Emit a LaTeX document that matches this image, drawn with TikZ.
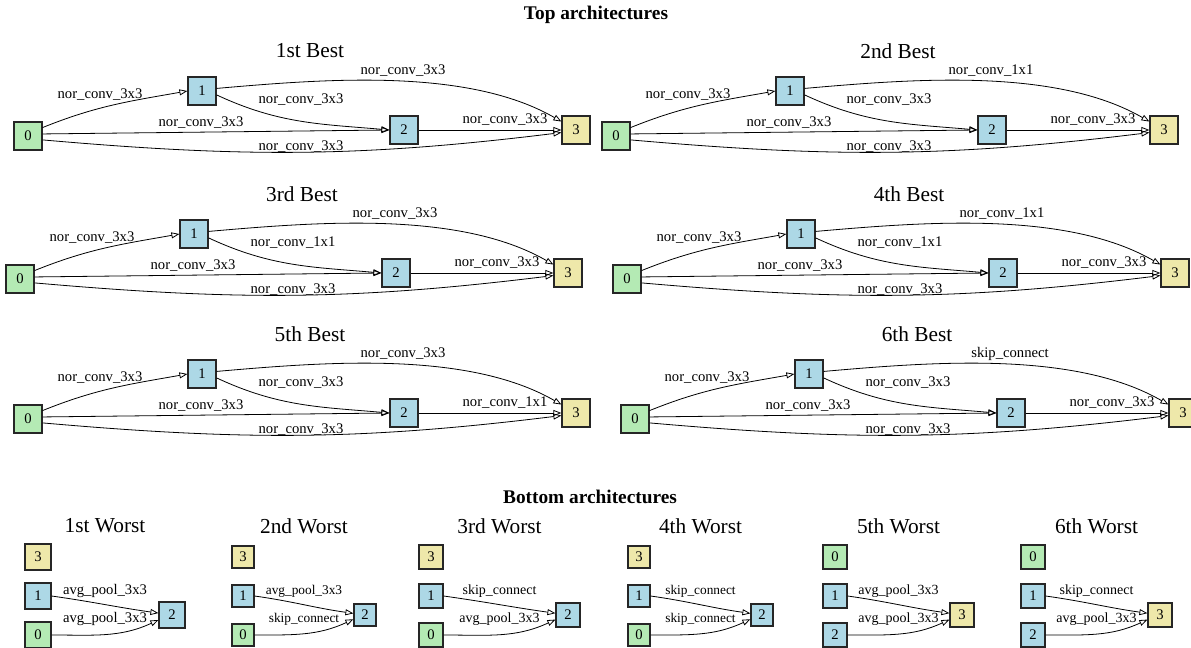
\documentclass[tikz,border=0pt]{standalone}
\usepackage{fontspec}
\setmainfont{Liberation Serif}
\usetikzlibrary{arrows.meta, positioning}

\definecolor{srcgreen}{HTML}{B4EAB4}
\definecolor{midblue}{HTML}{ADD8E6}
\definecolor{outyellow}{HTML}{EEE8AA}

\newcommand{\nor}[1]{nor\_conv\_#1}
\newcommand{\skp}{skip\_connect}
\newcommand{\avg}{avg\_pool\_3x3}

\begin{document}
\begin{tikzpicture}[
    x=0.75pt, y=-0.75pt,
    cell/.style={rectangle, draw=black!85, line width=0.9pt, minimum size=21pt, inner sep=0pt, font=\fontsize{11}{13}\selectfont},
    srcbox/.style={cell, fill=srcgreen},
    midbox/.style={cell, fill=midblue},
    outbox/.style={cell, fill=outyellow},
    lbl/.style={inner sep=0pt, font=\fontsize{11}{13}\selectfont},
    ttl/.style={inner sep=0pt, font=\fontsize{16}{18}\selectfont},
    head/.style={inner sep=0pt, font=\fontsize{14.5}{17}\selectfont\bfseries},
    edge/.style={-{Triangle[open, length=6pt, width=4.5pt]}, line width=0.6pt},
]
\useasboundingbox (0,0) rectangle (1191,648);

\node[head] (tophead) at (596,15) {Top architectures};
\node[head] (bothead) at (590,497) {Bottom architectures};

% best cells: 0->1, 1->3, 1->2, 0->2, 2->3, 0->3
\foreach \id/\dx/\dy/\ttl/\la/\lb/\lc/\ld/\le/\lf in {
    b1/0/0/1st Best/\nor{3x3}/\nor{3x3}/\nor{3x3}/\nor{3x3}/\nor{3x3}/\nor{3x3},
    b2/588/0/2nd Best/\nor{3x3}/\nor{1x1}/\nor{3x3}/\nor{3x3}/\nor{3x3}/\nor{3x3},
    b3/-8/143/3rd Best/\nor{3x3}/\nor{3x3}/\nor{1x1}/\nor{3x3}/\nor{3x3}/\nor{3x3},
    b4/599/143/4th Best/\nor{3x3}/\nor{1x1}/\nor{1x1}/\nor{3x3}/\nor{3x3}/\nor{3x3},
    b5/0/283/5th Best/\nor{3x3}/\nor{3x3}/\nor{3x3}/\nor{3x3}/\nor{1x1}/\nor{3x3},
    b6/607/283/6th Best/\nor{3x3}/\skp/\nor{3x3}/\nor{3x3}/\nor{3x3}/\nor{3x3}}
{
\begin{scope}[shift={(\dx,\dy)}]
\node[ttl] (\id-t) at (310,51) {\ttl};
\node[srcbox] (\id-0) at (28,136) {0};
\node[midbox] (\id-1) at (202,91) {1};
\node[midbox] (\id-2) at (404,130) {2};
\node[outbox] (\id-3) at (576,130) {3};

\draw[edge] (\id-0.30) to[out=22, in=190] (\id-1.west);
\draw[edge] (\id-1.10) to[out=5, in=150, looseness=0.8] (\id-3.150);
\draw[edge] (\id-1.-15) to[out=-25, in=175] (\id-2.west);
\draw[edge] (\id-0.8) -- (\id-2.west);
\draw[edge] (\id-2) -- (\id-3);
\draw[edge] (\id-0.-15) to[out=-5, in=187] (\id-3.190);

\node[lbl] (\id-la) at (100,95) {\la};
\node[lbl] (\id-lb) at (403,71) {\lb};
\node[lbl] (\id-lc) at (301,100) {\lc};
\node[lbl] (\id-ld) at (201,123) {\ld};
\node[lbl] (\id-le) at (505,120) {\le};
\node[lbl] (\id-lf) at (301,147) {\lf};
\end{scope}
}

% worst cells: lone node on top, two inputs into one target
\foreach \id/\xl/\xr/\bs/\fs/\ttl/\tp/\tpst/\lo/\lost/\tg/\tgst/\la/\lb in {
    w1/38/172/19.5pt/11/1st Worst/3/outbox/0/srcbox/2/midbox/\avg/\avg,
    w2/243/365/16.5pt/10/2nd Worst/3/outbox/0/srcbox/2/midbox/\avg/\skp,
    w3/431/568/18pt/10.5/3rd Worst/3/outbox/0/srcbox/2/midbox/\skp/\avg,
    w4/639/762/16.5pt/10/4th Worst/3/outbox/0/srcbox/2/midbox/\skp/\skp,
    w5/835/962/18pt/10.5/5th Worst/0/srcbox/2/midbox/3/outbox/\avg/\avg,
    w6/1033/1160/18pt/10.5/6th Worst/0/srcbox/2/midbox/3/outbox/\skp/\avg}
{
\node[ttl] (\id-t) at ({(\xl+\xr)/2},526) {\ttl};
\node[\tpst, minimum size=\bs] (\id-top) at (\xl,557) {\tp};
\node[midbox, minimum size=\bs] (\id-up) at (\xl,596) {1};
\node[\lost, minimum size=\bs] (\id-low) at (\xl,635) {\lo};
\node[\tgst, minimum size=\bs] (\id-tgt) at (\xr,615) {\tg};

\draw[edge] (\id-up.east) to[out=-8, in=172] (\id-tgt.172);
\draw[edge] (\id-low.east) to[out=0, in=205] (\id-tgt.200);

\node[lbl, font=\fontsize{\fs}{12}\selectfont] (\id-la) at ({(\xl+\xr)/2},591) {\la};
\node[lbl, font=\fontsize{\fs}{12}\selectfont] (\id-lb) at ({(\xl+\xr)/2},619) {\lb};
}
\end{tikzpicture}
\end{document}
